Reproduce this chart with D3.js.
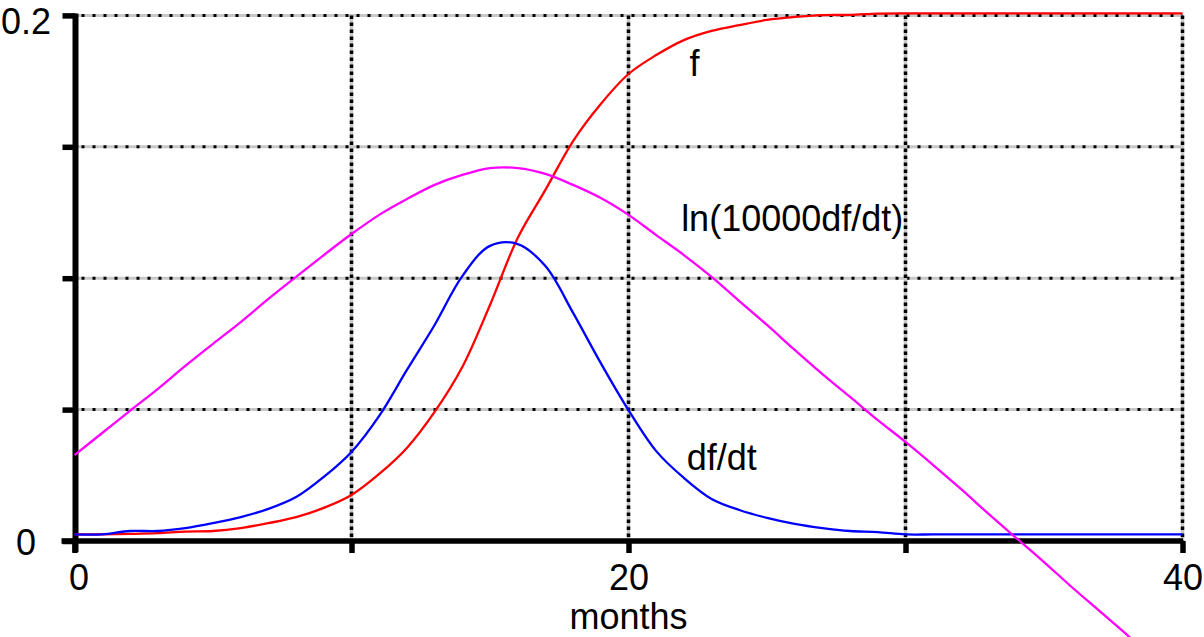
<!DOCTYPE html>
<html>
<head>
<meta charset="utf-8">
<script src="https://cdn.jsdelivr.net/npm/d3@7/dist/d3.min.js"></script>
<style>
  html, body { margin: 0; padding: 0; background: #fff; }
  svg { display: block; font-family: "Liberation Sans", Arial, Helvetica, sans-serif; }
</style>
</head>
<body>
<svg id="chart" width="1204" height="637"></svg>
<script>
// Time axis (months)
const months = [0,1,2,3,4,5,6,7,8,9,10,11,12,13,14,15,16,17,18,19,20,
                21,22,23,24,25,26,27,28,29,30,31,32,33,34,35,36,37,38,39,40];

// f : cumulative fraction
const fValues = [0.0025,0.0025,0.0027,0.0030,0.0036,0.0038,0.0049,0.0068,0.0091,0.0126,0.0175,
                 0.0255,0.0354,0.0491,0.0662,0.0898,0.1153,0.1336,0.1522,0.1663,0.1777,
                 0.1849,0.1906,0.1941,0.1963,0.1983,0.1994,0.2001,0.2002,0.2007,0.2008,
                 0.2008,0.2008,0.2008,0.2008,0.2008,0.2008,0.2008,0.2008,0.2008,0.2008];

// df/dt (scaled)
const dfdtValues = [0.0025,0.0025,0.0038,0.0038,0.0049,0.0068,0.0091,0.0122,0.0167,0.0244,0.0339,
                    0.0476,0.0651,0.0822,0.1008,0.1123,0.1130,0.1046,0.0868,0.0677,0.0498,
                    0.0342,0.0240,0.0160,0.0118,0.0088,0.0065,0.0049,0.0038,0.0034,0.0025,
                    0.0025,0.0025,0.0025,0.0025,0.0025,0.0025,0.0025,0.0025,0.0025,0.0025];

// ln(10000 df/dt) (scaled)
const lnValues = [0.0327,0.0411,0.0495,0.0578,0.0666,0.0750,0.0833,0.0921,0.1005,0.1088,0.1168,
                  0.1241,0.1301,0.1355,0.1393,0.1419,0.1419,0.1397,0.1355,0.1305,0.1241,
                  0.1164,0.1088,0.1005,0.0913,0.0822,0.0727,0.0635,0.0548,0.0460,0.0377,
                  0.0289,0.0198,0.0103,0.0011,-0.0080,-0.0175,-0.0266,-0.0357,-0.0452,-0.0543];

// Axis ticks and labels
const xTicks = [0, 10, 20, 30, 40];
const xTickLabels = {0: "0", 20: "20", 40: "40"};
const yTicks = [0, 0.05, 0.1, 0.15, 0.2];
const yTickLabels = {0: "0", 0.2: "0.2"};
const xTitle = "months";

const seriesNames = ["f", "df/dt", "ln(10000df/dt)"];
const seriesColors = ["#ff0000", "#0000ff", "#ff00ff"];
// label anchor positions in data units [month, value]
const labelAnchors = [[22.2, 0.177], [22.1, 0.027], [21.9, 0.118]];

const svg = d3.select("#chart");
const x = d3.scaleLinear().domain([0, 40]).range([74.5, 1182.5]);
const y = d3.scaleLinear().domain([0, 0.2]).range([541, 15.4]);
const axisX = 75.5;

// grid
const grid = svg.append("g");
yTicks.filter(d => d > 0).forEach(d => {
  grid.append("line").attr("x1", x(0)).attr("x2", x(40)).attr("y1", y(d)).attr("y2", y(d))
    .attr("stroke", "#c8c8c8").attr("stroke-width", 3);
  grid.append("line").attr("x1", x(0) + 7).attr("x2", x(40)).attr("y1", y(d)).attr("y2", y(d))
    .attr("stroke", "#000").attr("stroke-width", 3).attr("stroke-dasharray", "3,8");
});
xTicks.filter(d => d > 0).forEach(d => {
  grid.append("line").attr("x1", x(d)).attr("x2", x(d)).attr("y1", y(0.2)).attr("y2", y(0))
    .attr("stroke", "#c8c8c8").attr("stroke-width", 3.5);
  grid.append("line").attr("x1", x(d)).attr("x2", x(d)).attr("y1", y(0.2)).attr("y2", y(0))
    .attr("stroke", "#000").attr("stroke-width", 3.5).attr("stroke-dasharray", "3.5,3.5");
});

// x axis
const gx = svg.append("g").attr("transform", `translate(0,${y(0)})`)
  .call(d3.axisBottom(x).tickValues(xTicks).tickSize(12).tickSizeOuter(0)
    .tickFormat(d => xTickLabels[d] || ""));
gx.select(".domain").attr("stroke", "#000").attr("stroke-width", 5.5)
  .attr("d", `M${axisX - 14},0H${x(40) + 0.5}`);
gx.selectAll(".tick line").attr("stroke", "#000").attr("stroke-width", 5.5).attr("y1", 0);
gx.selectAll(".tick text").attr("fill", "#000").attr("font-size", 36)
  .attr("y", 49).attr("dy", 0).attr("dx", d => d === 0 ? 4 : 0);

// y axis
const gy = svg.append("g").attr("transform", `translate(${axisX},0)`)
  .call(d3.axisLeft(y).tickValues(yTicks).tickSize(13).tickSizeOuter(0)
    .tickFormat(d => yTickLabels[d] || ""));
gy.select(".domain").attr("stroke", "#000").attr("stroke-width", 6)
  .attr("d", `M0,${y(0.2) - 2}V${y(0) + 11}`);
gy.selectAll(".tick line").attr("stroke", "#000").attr("stroke-width", 5.5);
gy.selectAll(".tick text").attr("fill", "#000").attr("font-size", 36)
  .attr("text-anchor", "middle").attr("x", -49.5).attr("dy", 0)
  .attr("y", d => d === 0.2 ? 17.6 : 13);

// axis title
svg.append("text").attr("x", x(20)).attr("y", 629).attr("text-anchor", "middle")
  .attr("font-size", 36).attr("fill", "#000").text(xTitle);

// curves
const series = [fValues, dfdtValues, lnValues];
const line = d3.line().x((d, i) => x(months[i])).y(d => y(d)).curve(d3.curveCatmullRom.alpha(0.5));
series.forEach((vals, i) => {
  svg.append("path").datum(vals).attr("d", line)
    .attr("fill", "none").attr("stroke", seriesColors[i]).attr("stroke-width", 2.3)
    .attr("stroke-linejoin", "round");
});

// series labels
seriesNames.forEach((name, i) => {
  svg.append("text").attr("x", x(labelAnchors[i][0])).attr("y", y(labelAnchors[i][1]))
    .attr("font-size", 36).attr("fill", "#000").text(name);
});
</script>
</body>
</html>
